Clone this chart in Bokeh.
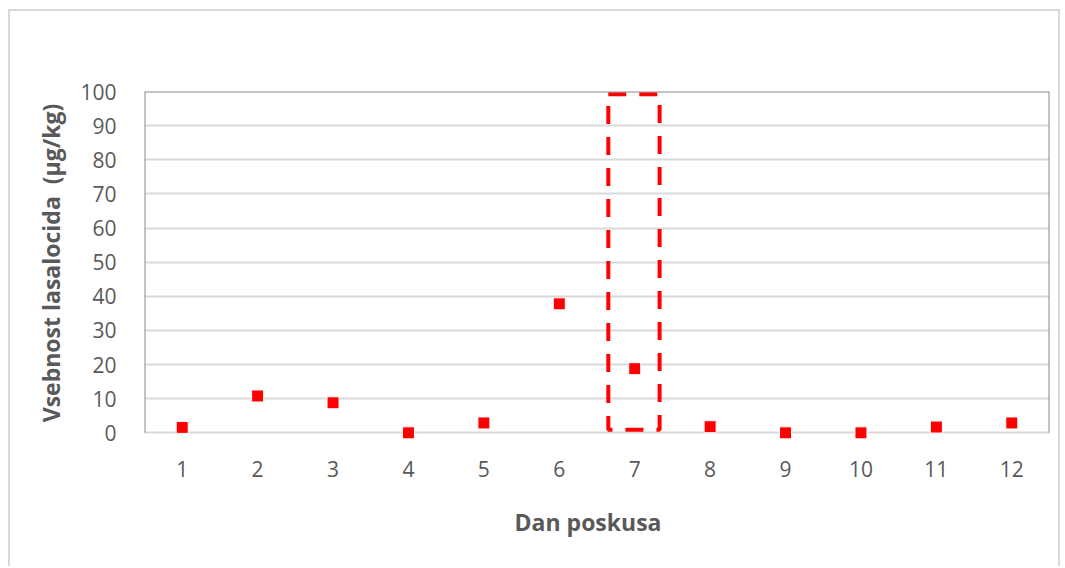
from bokeh.plotting import figure
from bokeh.models import FixedTicker, Range1d, Span
from bokeh.embed import file_html
from bokeh.resources import INLINE

days = [1, 2, 3, 4, 5, 6, 7, 8, 9, 10, 11, 12]
day_labels = ["1", "2", "3", "4", "5", "6", "7", "8", "9", "10", "11", "12"]
lasalocid = [1.6, 10.8, 8.8, 0.0, 2.9, 37.8, 18.8, 1.8, 0.0, 0.0, 1.7, 2.9]
y_ticks = [0, 10, 20, 30, 40, 50, 60, 70, 80, 90, 100]
y_title = "Vsebnost lasalocida\u00a0 (µg/kg)"
x_title = "Dan poskusa"

# highlighted region around day 7
box_left, box_right, box_bottom, box_top = 6.65, 7.33, 0.9, 99.2

FONT = "Open Sans"
GREY = "#595959"
NB = "\u00a0"

p = figure(width=1052, height=557, output_backend="svg", toolbar_location=None,
           x_range=Range1d(0.5, 12.5), y_range=Range1d(-4, 100),
           min_border_left=134, min_border_right=13, min_border_top=80, min_border_bottom=122)
p.styles = {"margin-left": "8px", "margin-top": "9px",
            "border-top": "2px solid #d9d9d9", "border-left": "2px solid #d9d9d9",
            "border-right": "2px solid #d9d9d9"}
p.outline_line_color = None
p.background_fill_color = "white"
p.border_fill_color = "white"

# grid
p.xgrid.grid_line_color = None
p.ygrid.ticker = FixedTicker(ticks=y_ticks)
p.ygrid.grid_line_color = "#d9d9d9"
p.ygrid.grid_line_width = 2

# axes
p.yaxis.ticker = FixedTicker(ticks=y_ticks)
p.xaxis.ticker = FixedTicker(ticks=days)
p.xaxis.major_label_overrides = {d: l for d, l in zip(days, day_labels)}
for ax in (p.xaxis, p.yaxis):
    ax.major_tick_line_color = None
    ax.minor_tick_line_color = None
    ax.axis_line_color = None
    ax.major_label_text_font = FONT
    ax.major_label_text_font_size = "21px"
    ax.major_label_text_color = GREY
    ax.axis_label_text_font = FONT
    ax.axis_label_text_font_size = "23px"
    ax.axis_label_text_font_style = "bold"
    ax.axis_label_text_color = GREY
p.yaxis.major_label_standoff = 22
p.xaxis.major_label_standoff = 8
p.yaxis.axis_label = NB * 2 + y_title
p.xaxis.axis_label = x_title + NB * 3
p.yaxis.axis_label_standoff = 10
p.xaxis.axis_label_standoff = 26

# frame edges: left, top, right dark grey; bottom is the light 0 gridline
p.segment(x0=[0.5, 12.5], y0=[0, 0], x1=[0.5, 12.5], y1=[100, 100],
          line_color="#898989", line_width=2)
p.add_layout(Span(location=100, dimension="width", line_color="#898989", line_width=2))

# dashed highlight box
p.quad(left=[box_left], right=[box_right], bottom=[box_bottom], top=[box_top],
       fill_alpha=0, line_color="#ff0000", line_width=4, line_dash="18 13")

# data points
p.scatter(days, lasalocid, marker="square", size=12, fill_color="#ff0000",
          line_color="white", line_width=1)

open("out.html", "w").write(file_html(p, INLINE))
